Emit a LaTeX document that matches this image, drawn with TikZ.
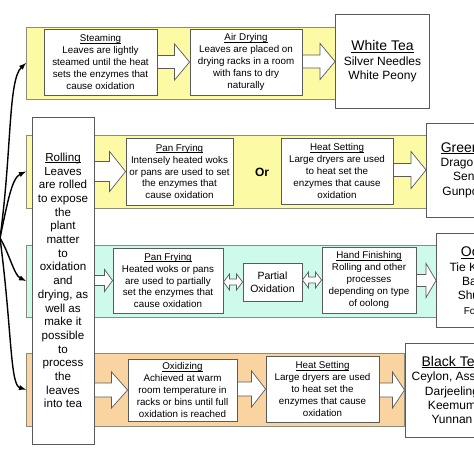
\documentclass[tikz,border=0pt]{standalone}
\usepackage{fontspec}
\setmainfont{Liberation Sans}
\usetikzlibrary{calc}
\definecolor{bandyellow}{RGB}{252,250,165}
\definecolor{bandgreen}{RGB}{205,250,235}
\definecolor{bandorange}{RGB}{250,212,160}
\definecolor{edgegray}{RGB}{90,90,90}
\definecolor{bandedge}{RGB}{140,140,120}
\tikzset{
  band/.style={draw=bandedge, line width=0.7pt, inner sep=0pt, outer sep=0pt},
  stepbox/.style={draw=edgegray, fill=white, line width=0.9pt, align=center, inner sep=1pt, font=\fontsize{9.8}{11.8}\selectfont},
  teabox/.style={draw=edgegray, fill=white, line width=0.9pt, align=center, inner sep=1pt, font=\fontsize{12}{14.4}\selectfont, minimum width=94pt, minimum height=94pt},
  blockarrow/.style={draw=edgegray, fill=white, line width=0.7pt, line join=miter},
  curvearrow/.style={->, >=latex, line width=1.4pt}
}
% underline close to the baseline
\newcommand{\ul}[1]{{\setbox0\hbox{#1}\rlap{\rule[-1.3pt]{\wd0}{0.5pt}}\box0}}
\newcommand{\teatitle}[1]{{\fontsize{14}{16}\selectfont\ul{#1}}}
% block arrow: from, to, shaft half, head half, head length
\newcommand{\blockarr}[5]{%
  \draw[blockarrow] ($(#1.east |- #2.west)+(0,-#3)$) -- ($(#2.west)+(-#5,-#3)$) -- ($(#2.west)+(-#5,-#4)$) -- (#2.west)
    -- ($(#2.west)+(-#5,#4)$) -- ($(#2.west)+(-#5,#3)$) -- ($(#1.east |- #2.west)+(0,#3)$) -- cycle;}
% double block arrow: from, to, shaft half, head half, head length
\newcommand{\dblarr}[5]{%
  \draw[blockarrow] (#1.east |- #2.west) -- ($(#1.east |- #2.west)+(#5,-#4)$) -- ($(#1.east |- #2.west)+(#5,-#3)$)
    -- ($(#2.west)+(-#5,-#3)$) -- ($(#2.west)+(-#5,-#4)$) -- (#2.west) -- ($(#2.west)+(-#5,#4)$) -- ($(#2.west)+(-#5,#3)$)
    -- ($(#1.east |- #2.west)+(#5,#3)$) -- ($(#1.east |- #2.west)+(#5,#4)$) -- cycle;}
\begin{document}
\begin{tikzpicture}[x=1pt, y=-1pt]
\useasboundingbox (0,0) rectangle (474,474);
\clip (0,0) rectangle (474,474);
% bands
\node[band, fill=bandyellow, minimum width=310pt, minimum height=72pt] (whiteband) at (181,63) {};
\node[band, fill=bandyellow, minimum width=401pt, minimum height=73pt] (greenband) at (226.5,171.5) {};
\node[band, fill=bandgreen, minimum width=411pt, minimum height=72pt] (oolongband) at (231.5,281) {};
\node[band, fill=bandorange, minimum width=378pt, minimum height=73pt] (blackband) at (215,389.5) {};
% white tea
\node[stepbox, minimum width=113pt, minimum height=66pt] (steam) at (100.5,62) {\ul{Steaming}\\Leaves are lightly\\steamed until the heat\\sets the enzymes that\\cause oxidation};
\node[stepbox, minimum width=112pt, minimum height=66pt] (airdry) at (246,62) {\ul{Air Drying}\\Leaves are placed on\\drying racks in a room\\with fans to dry\\naturally};
\node[teabox] (white) at (382.5,61.5) {\teatitle{White Tea}\\Silver Needles\\White Peony};
% rolling
\node[stepbox, font=\fontsize{11.6}{13.7}\selectfont, minimum width=62pt, minimum height=327pt] (roll) at (63,280.5) {\ul{Rolling}\\Leaves\\are rolled\\to expose\\the\\plant\\matter\\to\\oxidation\\and\\drying, as\\well as\\make it\\possible\\to\\process\\the\\leaves\\into tea};
% green tea
\node[stepbox, minimum width=107pt, minimum height=67pt] (panfry) at (179.5,171.5) {\ul{Pan Frying}\\Intensely heated woks\\or pans are used to set\\the enzymes that\\cause oxidation};
\node[font=\bfseries\fontsize{12}{14}\selectfont] (or) at (262,172) {Or};
\node[stepbox, minimum width=112pt, minimum height=66pt] (heatset) at (337,171) {\ul{Heat Setting}\\Large dryers are used\\to heat set the\\enzymes that cause\\oxidation};
\node[teabox] (green) at (473.5,170) {\teatitle{Green Tea}\\Dragon Well\\Sencha\\Gunpowder};
% oolong
\node[stepbox, minimum width=110pt, minimum height=65pt] (panpart) at (168,280.5) {\ul{Pan Frying}\\Heated woks or pans\\are used to partially\\set the enzymes that\\cause oxidation};
\node[stepbox, font=\fontsize{10.5}{12.6}\selectfont, minimum width=59pt, minimum height=38pt] (partial) at (272.5,282) {Partial\\Oxidation};
\node[stepbox, minimum width=94pt, minimum height=66pt] (handfin) at (369,280) {\ul{Hand Finishing}\\Rolling and other\\processes\\depending on type\\of oolong};
\node[teabox] (oolong) at (483.5,280.5) {\teatitle{Oolong}\\Tie Kuan Yin\\Bai Hao\\Shui Xian\\{\fontsize{10}{12}\selectfont Formosa}};
% black tea
\node[stepbox, minimum width=109pt, minimum height=62pt] (oxid) at (182.5,390) {\ul{Oxidizing}\\Achieved at warm\\room temperature in\\racks or bins until full\\oxidation is reached};
\node[stepbox, minimum width=113pt, minimum height=66pt] (heatblack) at (322.5,389) {\ul{Heat Setting}\\Large dryers are used\\to heat set the\\enzymes that cause\\oxidation};
\node[teabox] (black) at (452,390) {\teatitle{Black Tea}\\Ceylon, Assam\\Darjeeling\\Keemum\\Yunnan};
% block arrows
\blockarr{steam}{airdry}{6.5}{18}{15}
\blockarr{airdry}{white}{6.5}{18}{15}
\blockarr{roll}{panfry}{10}{20}{16}
\blockarr{heatset}{green}{6.5}{18.5}{15}
\blockarr{roll}{panpart}{5}{11}{8}
\dblarr{panpart}{partial}{3}{8}{6}
\dblarr{partial}{handfin}{3}{8}{6}
\blockarr{handfin}{oolong}{6}{17}{10}
\blockarr{roll}{oxid}{7}{18}{16}
\blockarr{oxid}{heatblack}{7}{18}{14}
\blockarr{heatblack}{black}{7}{18}{12}
% curved arrows on the left
\coordinate (src) at (0,238);
\draw[curvearrow] (src) .. controls (12,150) and (8,80) .. (whiteband.west);
\draw[curvearrow] (src) .. controls (8,200) and (12,178) .. (greenband.west);
\draw[curvearrow] (src) .. controls (10,255) and (14,275) .. (oolongband.west);
\draw[curvearrow] (src) .. controls (12,330) and (10,385) .. (blackband.west);
\end{tikzpicture}
\end{document}
